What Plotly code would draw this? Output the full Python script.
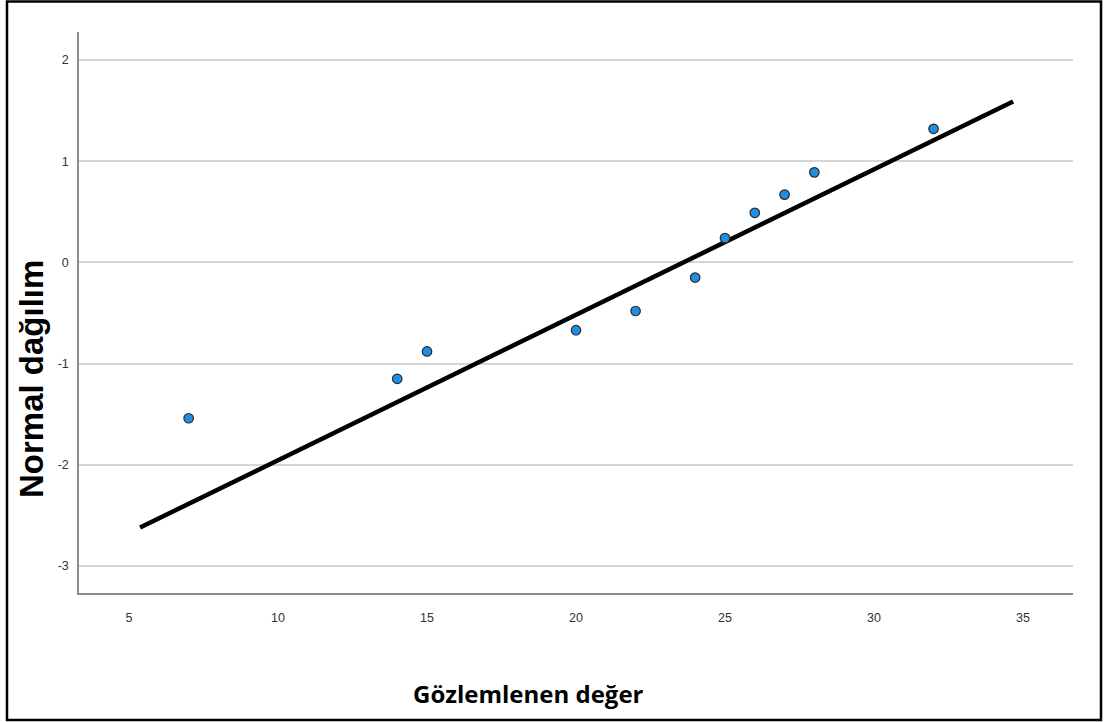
import plotly.graph_objects as go

# Observed values and their expected normal quantiles
observed = [7, 14, 15, 20, 22, 24, 25, 26, 27, 28, 32]
normal_q = [-1.54, -1.15, -0.88, -0.67, -0.48, -0.15, 0.24, 0.49, 0.67, 0.89, 1.32]

# Reference line end points
line_x = [5.37, 34.67]
line_y = [-2.62, 1.59]

x_ticks = [5, 10, 15, 20, 25, 30, 35]
y_ticks = [-3, -2, -1, 0, 1, 2]

W, H = 1105, 722
L, R, T, B = 79, 32, 32, 129
PW, PH = W - L - R, H - T - B


def px(x):
    return (x - L) / PW


def py(y):
    return (H - B - y) / PH


fig = go.Figure()
fig.add_trace(go.Scatter(
    x=line_x, y=line_y, mode="lines",
    line=dict(color="black", width=4.5),
    hoverinfo="skip", showlegend=False,
))
fig.add_trace(go.Scatter(
    x=observed, y=normal_q, mode="markers",
    marker=dict(size=9.5, color="#1f8fe6", line=dict(color="#2a2a2a", width=1.2)),
    showlegend=False,
))

tick_font = dict(family="Liberation Sans, Arial, sans-serif", size=12.5, color="#333333")

fig.update_layout(
    width=W, height=H,
    margin=dict(l=L, r=R, t=T, b=B, pad=0),
    paper_bgcolor="white", plot_bgcolor="white",
    xaxis=dict(
        range=[3.32, 36.68], tickvals=x_ticks, ticktext=[str(v) for v in x_ticks],
        showgrid=False, zeroline=False, showline=True, linecolor="#8c8c8c", linewidth=1.5,
        ticks="", tickfont=tick_font, ticklabelstandoff=12,
    ),
    yaxis=dict(
        range=[-3.267, 2.277], tickvals=y_ticks, ticktext=[str(v) for v in y_ticks],
        showgrid=True, gridcolor="#d6d6d6", gridwidth=2, zeroline=False,
        showline=True, linecolor="#8c8c8c", linewidth=1.5,
        ticks="", tickfont=tick_font, ticklabelstandoff=6,
    ),
    shapes=[dict(
        type="rect", xref="paper", yref="paper",
        x0=px(7), x1=px(1101), y0=py(720), y1=py(1.5),
        line=dict(color="black", width=2.5), fillcolor="rgba(0,0,0,0)", layer="above",
    )],
    annotations=[
        dict(
            text="<b>Normal dağılım</b>", xref="paper", yref="paper",
            x=px(31), y=py(379), xanchor="center", yanchor="middle",
            textangle=-90, showarrow=False,
            font=dict(family="Liberation Sans, Arial, sans-serif", size=33, color="black"),
        ),
        dict(
            text="<b>Gözlemlenen değer</b>", xref="paper", yref="paper",
            x=px(528), y=py(693), xanchor="center", yanchor="middle",
            showarrow=False,
            font=dict(family="Open Sans, sans-serif", size=24, color="black"),
        ),
    ],
)

fig.write_html("out.html")
